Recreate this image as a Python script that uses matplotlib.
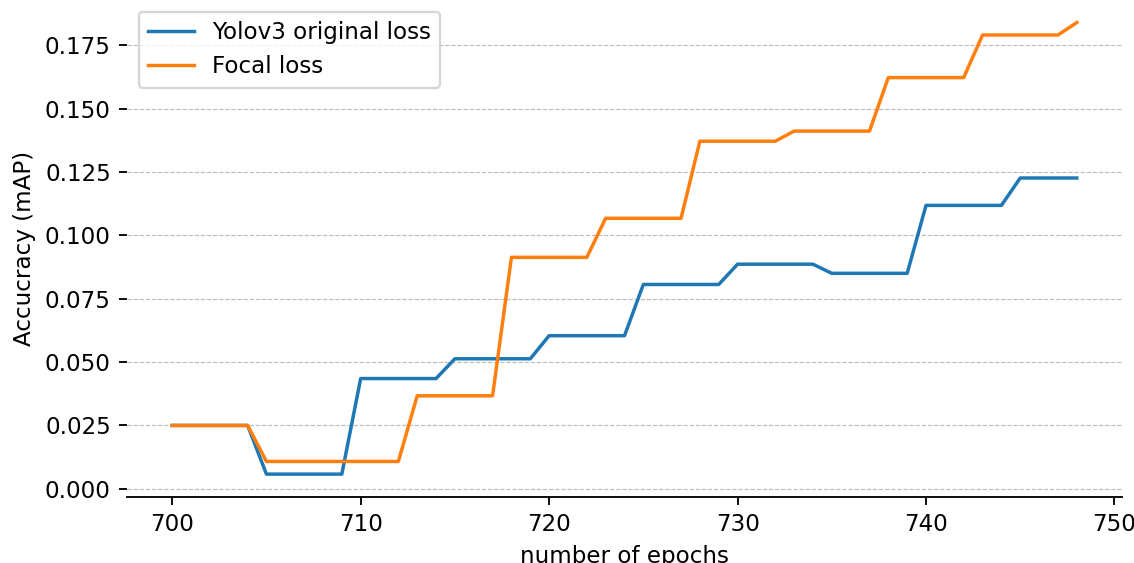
import matplotlib
matplotlib.use("Agg")
import matplotlib.pyplot as plt

epochs = list(range(700, 749))

yolov3_loss = [0.025] * 5 + [0.0058] * 5 + [0.0435] * 5 + [0.0513] * 5 + [0.0604] * 5 \
    + [0.0806] * 5 + [0.0886] * 5 + [0.0850] * 5 + [0.1118] * 5 + [0.1226] * 4

focal_loss = [0.025] * 5 + [0.0108] * 8 + [0.0367] * 5 + [0.0913] * 5 + [0.1067] * 5 \
    + [0.1371] * 5 + [0.1411] * 5 + [0.1622] * 5 + [0.1790] * 5 + [0.1839]

series_labels = ["Yolov3 original loss", "Focal loss"]

DPI = 166
fig = plt.figure(figsize=(1134 / DPI, 563 / DPI), dpi=DPI)
ax = fig.add_axes([127 / 1134, 1 - 496.7 / 563, (1122 - 127) / 1134, 496.7 / 563])

ax.plot(epochs, yolov3_loss, color="#1f77b4", label=series_labels[0])
ax.plot(epochs, focal_loss, color="#ff7f0e", label=series_labels[1])

ax.grid(axis="y", linestyle="--", linewidth=0.5, color="#bbbbbb")
ax.set_axisbelow(True)
for s in ["top", "right", "left"]:
    ax.spines[s].set_visible(False)

ax.set_xlabel("number of epochs")
ax.set_ylabel("Accucracy (mAP)")
ax.legend(loc="upper left")

fig.savefig("out.png", dpi=DPI)
